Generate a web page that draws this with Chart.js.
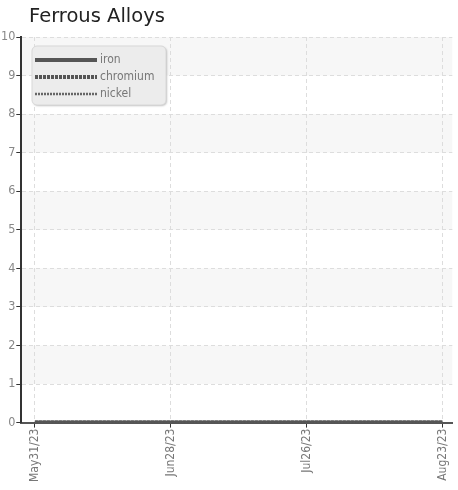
<!DOCTYPE html>
<html>
<head>
<meta charset="utf-8">
<script src="https://cdn.jsdelivr.net/npm/chart.js@4/dist/chart.umd.min.js"></script>
<style>
  body { margin: 0; background: #fff; }
  #wrap { position: relative; width: 458px; height: 490px; }
  #title { position: absolute; left: 29px; top: 4px; font: 19.5px "DejaVu Sans", sans-serif; color: #222; }
</style>
</head>
<body>
<div id="wrap">
  <canvas id="myChart" width="458" height="490"></canvas>
  <div id="title">Ferrous Alloys</div>
</div>
<script>
// days since May 31 2023
const days = [0, 28, 56, 84];
const tickLabels = ['May31/23', 'Jun28/23', 'Jul26/23', 'Aug23/23'];
const iron = [0, 0, 0, 0];
const chromium = [0, 0, 0, 0];
const nickel = [0, 0, 0, 0];

const condensed = '"Liberation Sans Narrow", "DejaVu Sans Condensed", sans-serif';

// alternating horizontal bands
const bands = {
  id: 'bands',
  beforeDraw(chart) {
    const {ctx, chartArea: a, scales: {y}} = chart;
    ctx.save();
    ctx.fillStyle = '#f7f7f7';
    for (let v = 1; v < 10; v += 2) {
      const top = y.getPixelForValue(v + 1);
      const bot = y.getPixelForValue(v);
      ctx.fillRect(a.left, top, a.right - a.left, bot - top);
    }
    ctx.restore();
  },
};

// legend box inside the plot
const boxLegend = {
  id: 'boxLegend',
  afterDraw(chart) {
    const ctx = chart.ctx;
    const x = 32, y = 46, w = 134, h = 59;
    ctx.save();
    ctx.shadowColor = 'rgba(0,0,0,0.25)';
    ctx.shadowOffsetX = 1;
    ctx.shadowOffsetY = 1;
    ctx.shadowBlur = 2;
    ctx.fillStyle = '#ececec';
    ctx.beginPath();
    ctx.roundRect(x, y, w, h, 5);
    ctx.fill();
    ctx.shadowColor = 'transparent';
    ctx.strokeStyle = '#d8d8d8';
    ctx.lineWidth = 1;
    ctx.stroke();
    ctx.font = '12px ' + condensed;
    ctx.textBaseline = 'middle';
    chart.data.datasets.forEach((ds, i) => {
      const ly = y + 14 + i * 17;
      ctx.strokeStyle = ds.borderColor;
      ctx.lineWidth = ds.borderWidth;
      ctx.setLineDash(ds.borderDash || []);
      ctx.beginPath();
      ctx.moveTo(x + 3, ly);
      ctx.lineTo(x + 65, ly);
      ctx.stroke();
      ctx.setLineDash([]);
      ctx.fillStyle = '#777';
      ctx.fillText(ds.label, x + 68, ly);
    });
    ctx.restore();
  },
};

new Chart(document.getElementById('myChart'), {
  type: 'line',
  data: {
    datasets: [
      {label: 'iron', data: days.map((d, i) => ({x: d, y: iron[i]})), borderColor: '#555', borderWidth: 4, pointRadius: 0},
      {label: 'chromium', data: days.map((d, i) => ({x: d, y: chromium[i]})), borderColor: '#555', borderWidth: 4, borderDash: [3, 1], pointRadius: 0},
      {label: 'nickel', data: days.map((d, i) => ({x: d, y: nickel[i]})), borderColor: '#666', borderWidth: 2.5, borderDash: [2, 1], pointRadius: 0},
    ],
  },
  options: {
    responsive: false,
    animation: false,
    layout: {padding: {top: 37, right: 0, left: 0, bottom: 7}},
    plugins: {legend: {display: false}, title: {display: false}, tooltip: {enabled: false}},
    scales: {
      x: {
        type: 'linear',
        min: -2.8,
        max: 86.0,
        afterBuildTicks(scale) { scale.ticks = days.map(v => ({value: v})); },
        ticks: {
          autoSkip: false,
          maxRotation: 90,
          minRotation: 90,
          padding: 1,
          color: '#777',
          font: {family: condensed, size: 12},
          callback: (v, i) => tickLabels[i],
        },
        grid: {color: '#ddd', tickColor: '#333', tickLength: 5},
        border: {color: '#555', width: 2, dash: [4, 3]},
      },
      y: {
        min: 0,
        max: 10,
        ticks: {stepSize: 1, color: '#888', font: {family: condensed, size: 12.5}, padding: 1},
        grid: {color: '#ddd', tickColor: '#333', tickLength: 5},
        border: {color: '#333', width: 2, dash: [4, 3]},
      },
    },
  },
  plugins: [bands, boxLegend],
});
</script>
</body>
</html>
